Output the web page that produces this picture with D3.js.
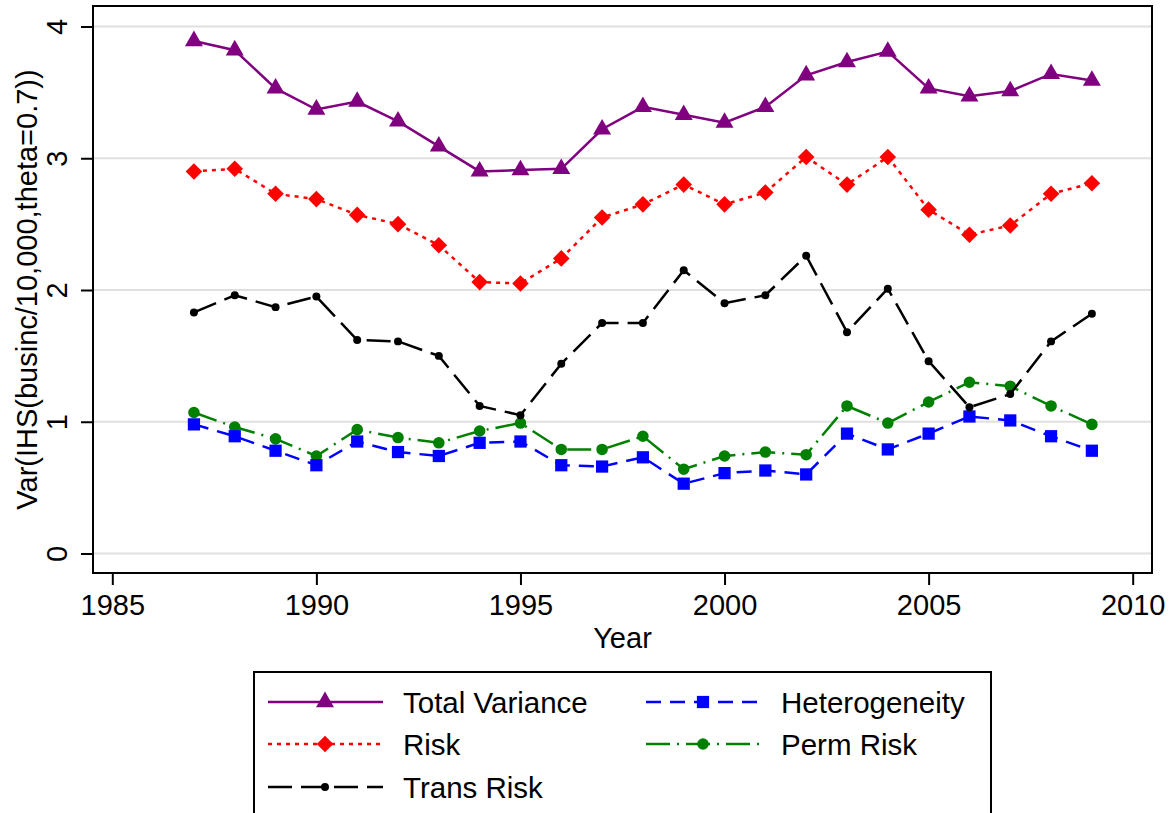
<!DOCTYPE html>
<html>
<head>
<meta charset="utf-8">
<script src="https://cdn.jsdelivr.net/npm/d3@7"></script>
<style>
  body { margin: 0; background: white; }
  text { font-family: "Liberation Sans", Arial, sans-serif; fill: black; }
</style>
</head>
<body>
<div id="chart"></div>
<script>
// data
var years = [1987, 1988, 1989, 1990, 1991, 1992, 1993, 1994, 1995, 1996, 1997, 1998,
             1999, 2000, 2001, 2002, 2003, 2004, 2005, 2006, 2007, 2008, 2009];
var totalVariance = [3.89, 3.82, 3.53, 3.37, 3.43, 3.28, 3.09, 2.90, 2.91, 2.92, 3.22, 3.39,
                     3.33, 3.27, 3.39, 3.63, 3.73, 3.81, 3.53, 3.47, 3.51, 3.64, 3.59];
var risk = [2.90, 2.92, 2.73, 2.69, 2.57, 2.50, 2.34, 2.06, 2.05, 2.24, 2.55, 2.65,
            2.80, 2.65, 2.74, 3.01, 2.80, 3.01, 2.61, 2.42, 2.49, 2.73, 2.81];
var transRisk = [1.83, 1.96, 1.87, 1.95, 1.62, 1.61, 1.50, 1.12, 1.05, 1.44, 1.75, 1.75,
                 2.15, 1.90, 1.96, 2.26, 1.68, 2.01, 1.46, 1.11, 1.21, 1.61, 1.82];
var heterogeneity = [0.98, 0.89, 0.78, 0.67, 0.85, 0.77, 0.74, 0.84, 0.85, 0.67, 0.66, 0.73,
                     0.53, 0.61, 0.63, 0.60, 0.91, 0.79, 0.91, 1.04, 1.01, 0.89, 0.78];
var permRisk = [1.07, 0.96, 0.87, 0.74, 0.94, 0.88, 0.84, 0.93, 0.99, 0.79, 0.79, 0.89,
                0.64, 0.74, 0.77, 0.75, 1.12, 0.99, 1.15, 1.30, 1.27, 1.12, 0.98];
var xTicks = [1985, 1990, 1995, 2000, 2005, 2010];
var yTicks = [0, 1, 2, 3, 4];

var series = [
  {name: "Total Variance", values: totalVariance, color: "#800080", dash: null, marker: "triangle", size: 140},
  {name: "Risk", values: risk, color: "#ff0000", dash: "4,5", marker: "diamond", size: 175},
  {name: "Trans Risk", values: transRisk, color: "#000000", dash: "24,9", marker: "circle", size: 50},
  {name: "Heterogeneity", values: heterogeneity, color: "#0000ff", dash: "15,9", marker: "square", size: 150},
  {name: "Perm Risk", values: permRisk, color: "#008000", dash: "24,7,2,7", marker: "circle", size: 105}
];

var W = 1175, H = 813;
var plot = {left: 93, right: 1152, top: 6, bottom: 573};

var svg = d3.select("#chart").append("svg")
    .attr("width", W)
    .attr("height", H);

var x = d3.scaleLinear().domain([1985, 2010]).range([112.3, 1132.7]);
var y = d3.scaleLinear().domain([0, 4]).range([553.5, 26.5]);

// gridlines
svg.append("g").selectAll("line")
    .data(yTicks)
    .enter().append("line")
    .attr("x1", plot.left).attr("x2", plot.right)
    .attr("y1", function(d) { return y(d); })
    .attr("y2", function(d) { return y(d); })
    .style("stroke", "#e0e0e0")
    .style("stroke-width", 2);

// y axis
var yAxis = svg.append("g")
    .attr("transform", "translate(" + plot.left + ",0)")
    .call(d3.axisLeft(y).tickValues(yTicks).tickSize(12).tickFormat(d3.format("d")));
yAxis.select(".domain").remove();
yAxis.selectAll("line").style("stroke", "black").style("stroke-width", 2);
yAxis.selectAll("text")
    .attr("x", null).attr("dy", null)
    .attr("transform", "translate(-26,0) rotate(-90)")
    .style("text-anchor", "middle")
    .style("font-size", "29px");

// x axis
var xAxis = svg.append("g")
    .attr("transform", "translate(0," + plot.bottom + ")")
    .call(d3.axisBottom(x).tickValues(xTicks).tickSize(12).tickFormat(d3.format("d")));
xAxis.select(".domain").remove();
xAxis.selectAll("line").style("stroke", "black").style("stroke-width", 2);
xAxis.selectAll("text")
    .attr("y", 42).attr("dy", null)
    .style("font-size", "29px");

// frame
svg.append("rect")
    .attr("x", plot.left).attr("y", plot.top)
    .attr("width", plot.right - plot.left)
    .attr("height", plot.bottom - plot.top)
    .style("fill", "none")
    .style("stroke", "black")
    .style("stroke-width", 2);

// axis titles
svg.append("text")
    .attr("x", (plot.left + plot.right) / 2)
    .attr("y", 648)
    .style("text-anchor", "middle")
    .style("font-size", "29px")
    .text("Year");

svg.append("text")
    .attr("transform", "translate(37," + ((plot.top + plot.bottom) / 2) + ") rotate(-90)")
    .style("text-anchor", "middle")
    .style("font-size", "29px")
    .text("Var(IHS(businc/10,000,theta=0.7))");

var symbolType = {
  triangle: d3.symbolTriangle,
  diamond: d3.symbolDiamond2,
  circle: d3.symbolCircle,
  square: d3.symbolSquare
};

function drawMarker(g, s, px, py) {
  g.append("path")
    .attr("d", d3.symbol().type(symbolType[s.marker]).size(s.size)())
    .attr("transform", "translate(" + px + "," + py + ")")
    .style("fill", s.color);
}

var line = d3.line()
    .x(function(d) { return x(d[0]); })
    .y(function(d) { return y(d[1]); });

// draw series (bottom ones first)
var drawOrder = [4, 3, 2, 1, 0];
drawOrder.forEach(function(i) {
  var s = series[i];
  var pts = years.map(function(yr, j) { return [yr, s.values[j]]; });
  var g = svg.append("g");
  g.append("path")
    .datum(pts)
    .attr("d", line)
    .style("fill", "none")
    .style("stroke", s.color)
    .style("stroke-width", 2.5)
    .style("stroke-dasharray", s.dash);
  pts.forEach(function(p) { drawMarker(g, s, x(p[0]), y(p[1])); });
});

// legend
var legend = svg.append("g");
legend.append("rect")
    .attr("x", 254).attr("y", 672)
    .attr("width", 737).attr("height", 160)
    .style("fill", "white")
    .style("stroke", "black")
    .style("stroke-width", 2);

var legendPos = [
  {col: 0, row: 0}, {col: 0, row: 1}, {col: 0, row: 2},
  {col: 1, row: 0}, {col: 1, row: 1}
];
var colX = [268, 646], rowY = [702, 744, 787];
series.forEach(function(s, i) {
  var lx = colX[legendPos[i].col], ly = rowY[legendPos[i].row];
  var g = legend.append("g");
  g.append("line")
    .attr("x1", lx).attr("x2", lx + 115)
    .attr("y1", ly).attr("y2", ly)
    .style("stroke", s.color)
    .style("stroke-width", 2.5)
    .style("stroke-dasharray", s.dash);
  drawMarker(g, s, lx + 57, ly);
  g.append("text")
    .attr("x", lx + 135)
    .attr("y", ly + 11)
    .style("font-size", "29.5px")
    .text(s.name);
});
</script>
</body>
</html>
